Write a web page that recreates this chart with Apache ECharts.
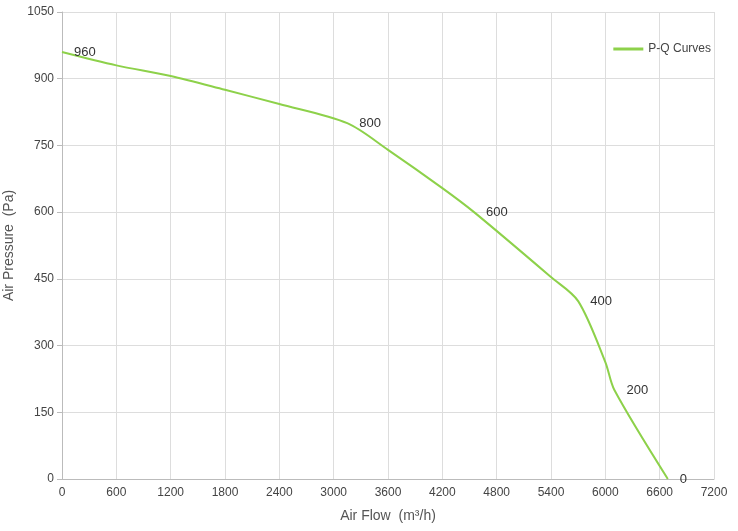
<!DOCTYPE html>
<html><head><meta charset="utf-8">
<script src="https://cdn.jsdelivr.net/npm/echarts@6/dist/echarts.min.js"></script>
<style>html,body{margin:0;padding:0;background:#fff}#c{width:738px;height:531px}</style>
</head><body><div id="c"></div>
<script>
const flow =     [0,   600, 1200, 1800, 2400, 3150, 3600, 4200, 4550, 5400, 5700, 6000, 6100, 6690];
const pressure = [960, 930, 906,  875,  843,  800,  740,  654,  600,  454,  400,  263,  200,  0];
const labelled = [960, 800, 600, 400, 200, 0];
const chart = echarts.init(document.getElementById('c'));
chart.setOption({
  animation:false,
  grid:{left:62,right:24,top:12,bottom:52,containLabel:false,outerBoundsMode:'none'},
  legend:{right:22,top:38,itemWidth:30,itemHeight:3,icon:'rect',textStyle:{color:'#444',fontSize:12,fontFamily:'Liberation Sans'},data:['P-Q Curves']},
  xAxis:{type:'value',min:0,max:7200,interval:600,name:'Air Flow  (m³/h)',nameLocation:'middle',nameGap:30,
    nameTextStyle:{fontSize:14,color:'#555'},axisLabel:{color:'#444',fontSize:12,formatter:v=>String(v)},
    axisLine:{lineStyle:{color:'#bbb'}},axisTick:{show:false},splitLine:{lineStyle:{color:'#ddd'}}},
  yAxis:{type:'value',min:0,max:1050,interval:150,name:'Air Pressure  (Pa)',nameLocation:'middle',nameGap:38,
    nameTextStyle:{fontSize:14,color:'#555'},axisLabel:{color:'#444',fontSize:12,formatter:v=>String(v)},
    axisLine:{show:true,lineStyle:{color:'#bbb'}},splitLine:{lineStyle:{color:'#ddd'}}},
  series:[{name:'P-Q Curves',type:'line',smooth:0.3,symbol:'circle',symbolSize:0.1,showSymbol:true,
    lineStyle:{color:'#8dd14a',width:2},itemStyle:{color:'#8dd14a'},
    labelLayout:{hideOverlap:false},
    data:flow.map((x,i)=>({value:[x,pressure[i]],
      label:{show:labelled.includes(pressure[i]),position:'right',distance:12,color:'#333',fontSize:13,formatter:String(pressure[i])}}))
  }]
});
</script></body></html>
